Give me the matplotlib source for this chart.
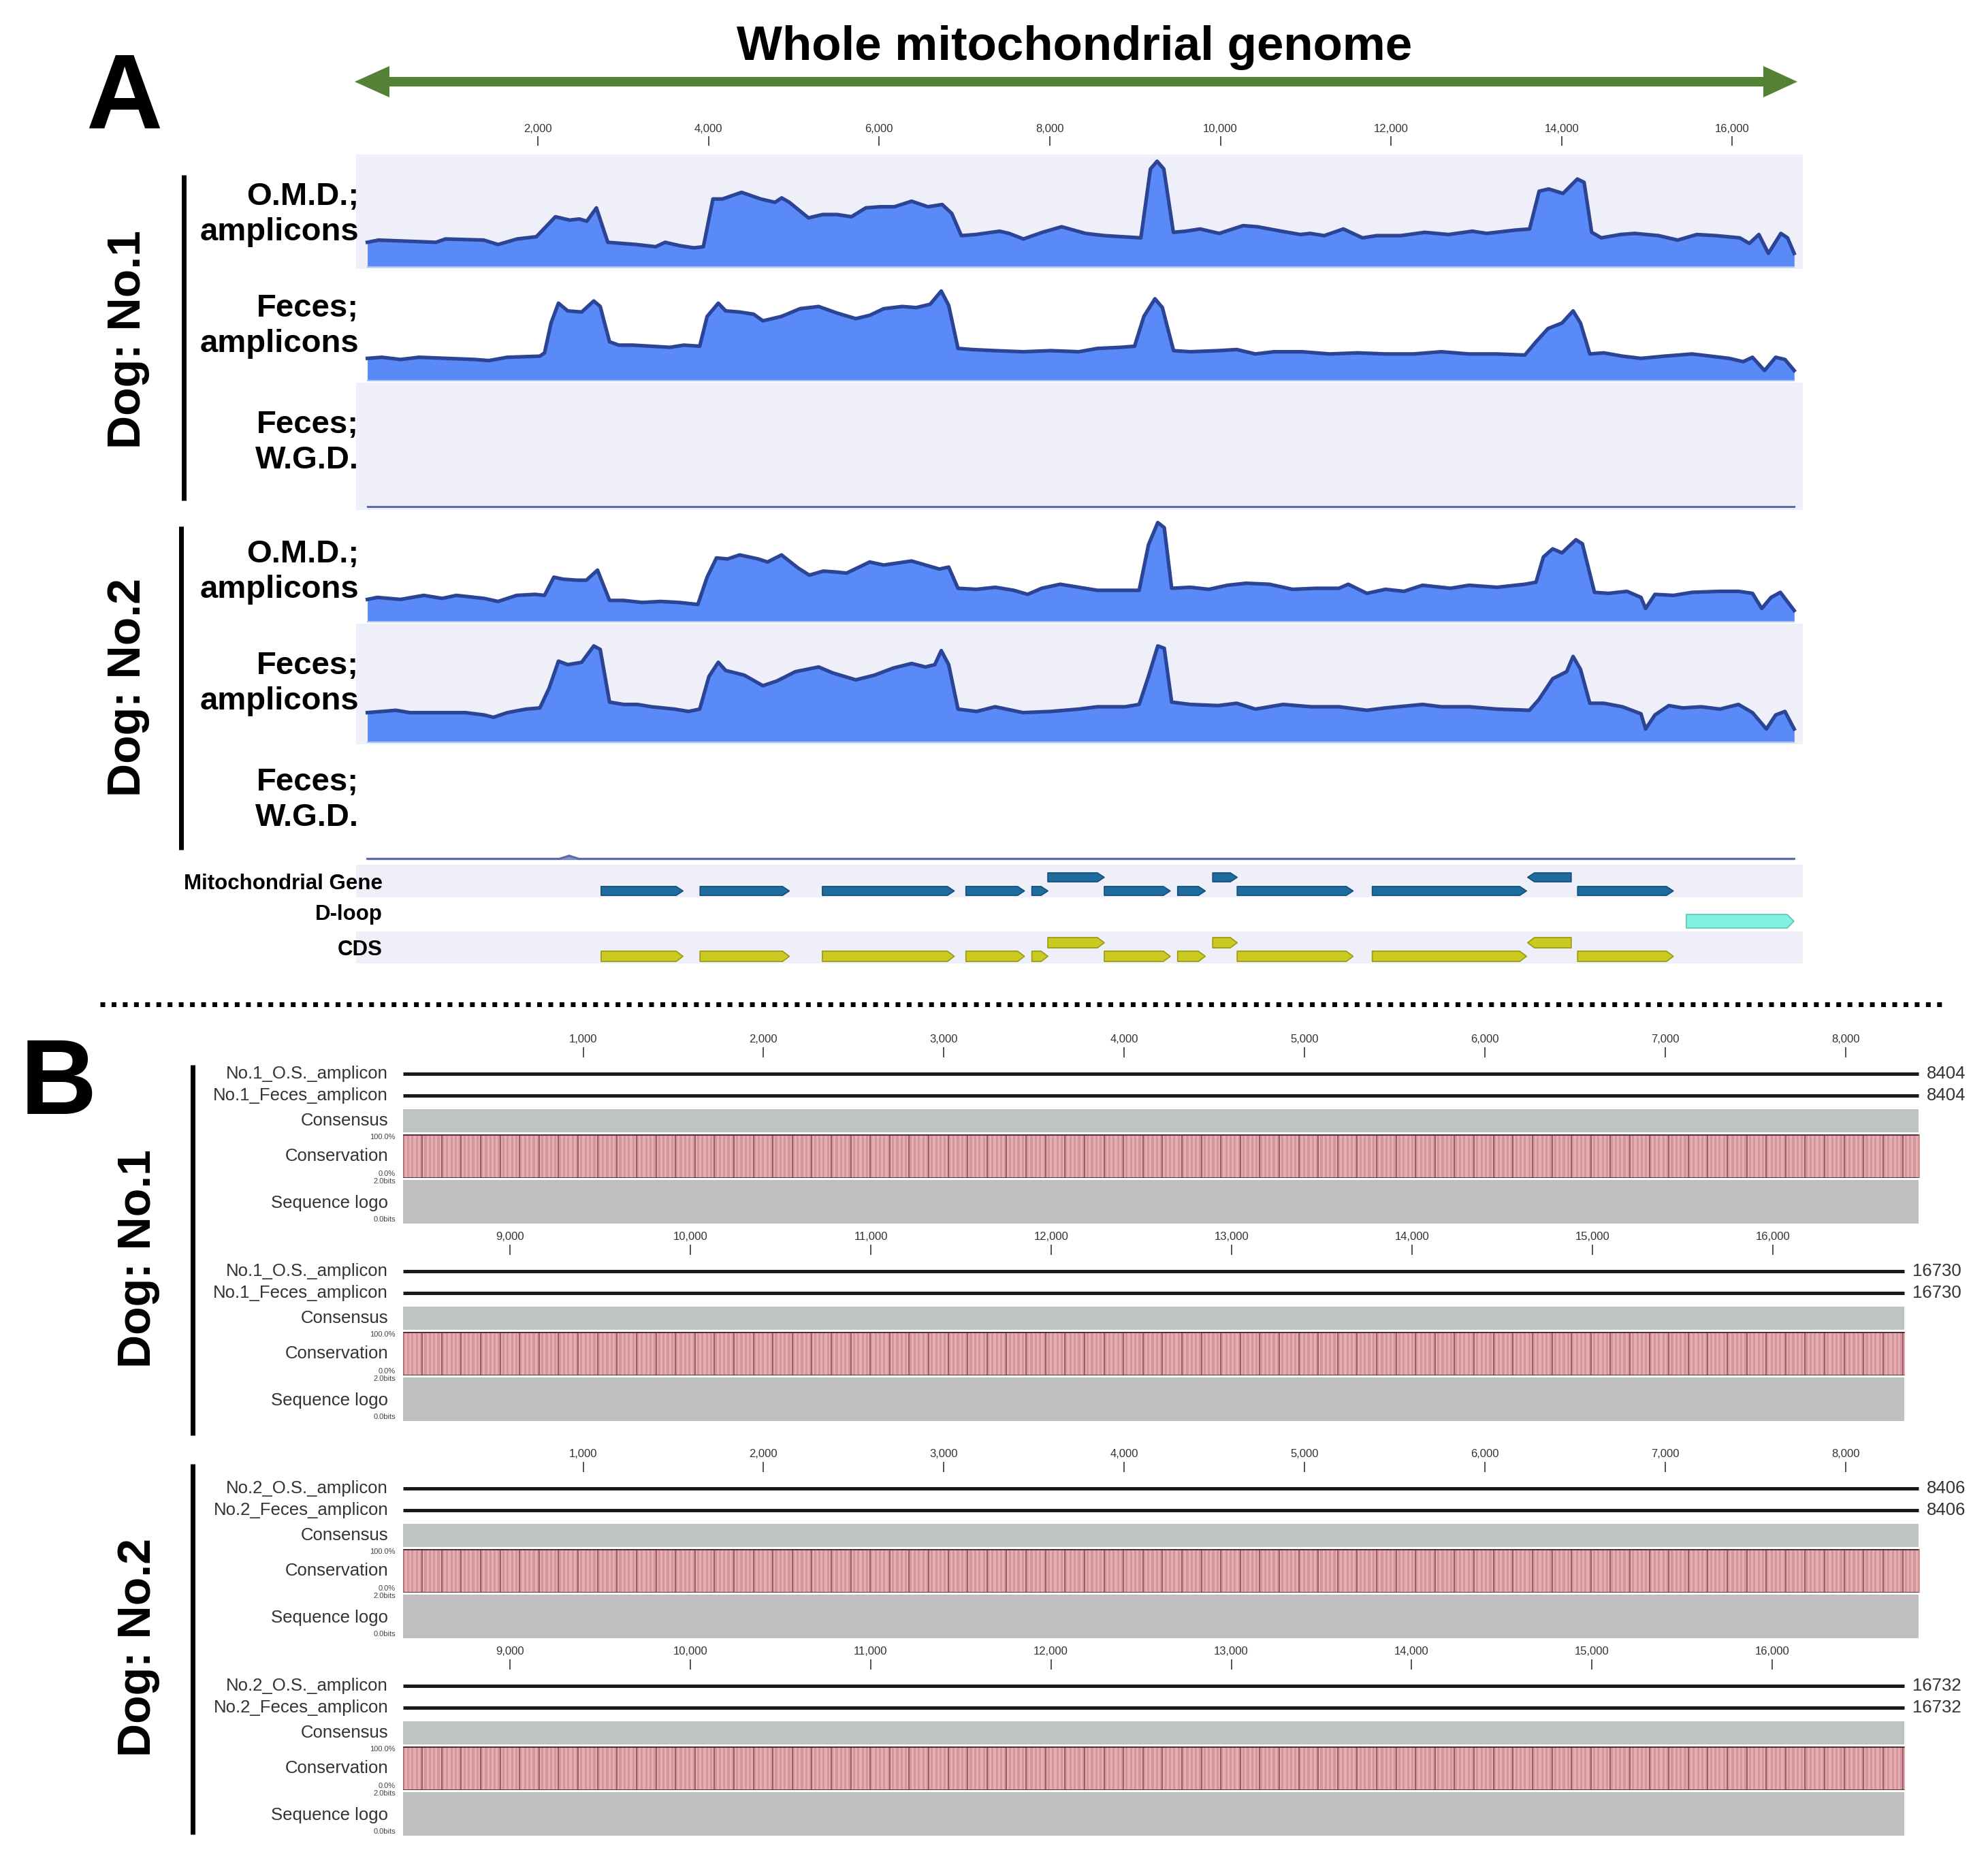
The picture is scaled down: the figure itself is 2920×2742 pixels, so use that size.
import numpy as np
import matplotlib
matplotlib.use('Agg')
import matplotlib.pyplot as plt
from matplotlib.patches import Polygon

plt.rcParams['font.family'] = ['Liberation Sans', 'DejaVu Sans']

W, H, DPI = 2920, 2742, 100

# ---------------- panel A: read coverage along the mitogenome ----------------
GENOME_LEN = 16730
a_ticks = [2000, 4000, 6000, 8000, 10000, 12000, 14000, 16000]

omd1_pos = [0, 132, 804, 916, 1364, 1532, 1756, 1980, 2204, 2372, 2484, 2573, 2685, 2819,
            3155, 3379, 3491, 3659, 3827, 3939, 4051, 4163, 4387, 4611, 4779, 4857, 4947,
            5171, 5339, 5507, 5675, 5843, 6011, 6179, 6380, 6571, 6739, 6851, 6963, 7131,
            7411, 7523, 7691, 7915, 8139, 8418, 8642, 9068, 9180, 9258, 9337, 9449, 9594,
            9762, 9986, 10266, 10434, 10714, 10938, 11050, 11218, 11442, 11666, 11834,
            12114, 12394, 12674, 12954, 13122, 13458, 13625, 13737, 13849, 14017, 14185,
            14264, 14353, 14465, 14689, 14857, 15137, 15361, 15585, 15809, 16089, 16201,
            16313, 16425, 16571, 16649, 16727]
omd1_cov = [22, 24, 22, 25, 24, 20, 25, 27, 45, 42, 43, 41, 53, 22,
            20, 18, 22, 19, 17, 18, 61, 61, 67, 61, 58, 62, 58,
            44, 47, 47, 45, 53, 54, 54, 59, 54, 56, 48, 28, 29,
            32, 30, 25, 31, 36, 30, 28, 26, 88, 95, 88, 31, 32,
            34, 30, 37, 36, 32, 29, 30, 28, 34, 26, 28,
            28, 31, 29, 32, 30, 33, 34, 68, 70, 66, 79,
            76, 31, 26, 29, 30, 28, 24, 29, 28, 26, 21,
            29, 12, 30, 26, 12]

fec1_pos = [0, 170, 388, 606, 933, 1260, 1423, 1641, 2022, 2077, 2153, 2240, 2349, 2512,
            2654, 2730, 2839, 2948, 3111, 3329, 3547, 3711, 3896, 3983, 4114, 4201, 4364,
            4528, 4637, 4855, 5072, 5290, 5508, 5726, 5889, 6053, 6270, 6434, 6597, 6728,
            6815, 6924, 7088, 7360, 7687, 8013, 8340, 8558, 8830, 8994, 9103, 9233, 9320,
            9451, 9647, 9974, 10192, 10410, 10628, 10955, 11281, 11608, 11935, 12262,
            12589, 12915, 13242, 13569, 13700, 13841, 14005, 14135, 14222, 14331, 14495,
            14713, 14931, 15203, 15530, 15748, 15966, 16129, 16238, 16379, 16510, 16619,
            16727]
fec1_cov = [20, 21, 19, 21, 20, 19, 18, 21, 22, 25, 52, 70, 63, 62,
            72, 67, 35, 32, 32, 31, 30, 32, 31, 58, 70, 63, 62,
            60, 54, 58, 65, 67, 61, 56, 59, 65, 67, 66, 69, 81,
            68, 29, 28, 27, 26, 27, 26, 29, 30, 31, 58, 74, 66,
            27, 26, 27, 28, 24, 26, 26, 24, 25, 24, 24,
            26, 24, 24, 23, 35, 47, 52, 63, 52, 24, 25,
            22, 20, 22, 24, 22, 20, 17, 21, 9, 21, 19,
            9]

omd2_pos = [0, 116, 388, 661, 878, 1042, 1369, 1532, 1750, 1968, 2077, 2186, 2295, 2458,
            2567, 2698, 2839, 3003, 3220, 3438, 3656, 3874, 3983, 4092, 4223, 4364, 4582,
            4691, 4855, 5050, 5181, 5345, 5508, 5617, 5889, 6053, 6216, 6380, 6543, 6706,
            6815, 6924, 7142, 7360, 7578, 7741, 7905, 8122, 8340, 8558, 9048, 9157, 9266,
            9342, 9429, 9647, 9865, 10083, 10301, 10573, 10846, 11118, 11390, 11499, 11717,
            11935, 12153, 12371, 12697, 12915, 13242, 13569, 13700, 13787, 13896, 14005,
            14168, 14244, 14386, 14549, 14767, 14931, 14985, 15094, 15312, 15530, 15857,
            16074, 16238, 16347, 16456, 16565, 16727]
omd2_cov = [22, 24, 22, 26, 23, 26, 23, 20, 26, 27, 26, 44, 42, 41,
            41, 51, 21, 21, 19, 20, 19, 17, 44, 63, 62, 66, 62,
            59, 66, 53, 46, 50, 49, 48, 59, 56, 58, 60, 56, 52,
            54, 33, 32, 34, 31, 27, 33, 37, 34, 31, 31, 76, 98,
            93, 33, 34, 32, 36, 38, 37, 32, 33, 33, 37, 28,
            32, 30, 36, 33, 36, 34, 37, 39, 64, 72, 68,
            81, 77, 29, 28, 30, 24, 13, 27, 26, 29, 30,
            30, 28, 13, 24, 29, 11]

fec2_pos = [0, 170, 334, 497, 824, 1151, 1369, 1478, 1641, 1859, 2022, 2131, 2240, 2349,
            2512, 2654, 2730, 2839, 3003, 3166, 3329, 3602, 3765, 3896, 4005, 4114, 4201,
            4419, 4637, 4800, 5018, 5290, 5453, 5726, 5944, 6162, 6380, 6543, 6652, 6728,
            6815, 6924, 7142, 7360, 7687, 8013, 8340, 8558, 8885, 9048, 9157, 9266, 9342,
            9429, 9647, 9974, 10192, 10410, 10737, 11063, 11390, 11717, 11935, 12371,
            12589, 12915, 13242, 13623, 13732, 13896, 14059, 14135, 14222, 14331, 14495,
            14713, 14931, 14985, 15094, 15257, 15421, 15639, 15857, 16074, 16238, 16401,
            16510, 16619, 16727]
fec2_cov = [25, 26, 27, 25, 25, 25, 23, 21, 25, 28, 29, 46, 69, 66,
            68, 82, 79, 34, 32, 32, 30, 28, 26, 28, 56, 68, 61,
            57, 48, 52, 60, 64, 59, 53, 57, 63, 67, 64, 66, 78,
            66, 28, 26, 30, 25, 26, 28, 30, 30, 32, 56, 82, 80,
            34, 32, 31, 33, 28, 32, 30, 30, 27, 29, 32,
            30, 30, 28, 27, 36, 54, 60, 73, 62, 33, 33,
            30, 24, 11, 23, 31, 29, 30, 28, 32, 25, 11,
            23, 26, 11]

# whole-genome data: essentially no mitochondrial reads
wgd1_pos = [0, 16727]
wgd1_cov = [0.8, 0.8]
wgd2_pos = [0, 2250, 2366, 2480, 16727]
wgd2_cov = [0.8, 0.8, 3.5, 0.8, 0.8]

a_track_labels = ['O.M.D.;\namplicons', 'Feces;\namplicons', 'Feces;\nW.G.D.',
                  'O.M.D.;\namplicons', 'Feces;\namplicons', 'Feces;\nW.G.D.']

# annotation: mitochondrial genes (same coordinates are the CDS)
gene_start = [2740, 3900, 5334, 7017, 7790, 7977, 8639, 9499, 9910, 10197, 11781, 13602, 14188]
gene_end = [3700, 4947, 6880, 7703, 7978, 8639, 9412, 9823, 10197, 11556, 13589, 14113, 15310]
gene_lane = [0, 0, 0, 0, 0, 1, 0, 0, 1, 0, 0, 1, 0]
gene_strand = [1, 1, 1, 1, 1, 1, 1, 1, 1, 1, 1, -1, 1]
dloop_start, dloop_end = 15463, 16724

# ---------------- panel B: pairwise alignments ----------------
b_start = [0, 8404, 0, 8406]
b_end = [8404, 16730, 8406, 16732]
b_names = [['No.1_O.S._amplicon', 'No.1_Feces_amplicon'],
           ['No.1_O.S._amplicon', 'No.1_Feces_amplicon'],
           ['No.2_O.S._amplicon', 'No.2_Feces_amplicon'],
           ['No.2_O.S._amplicon', 'No.2_Feces_amplicon']]
b_ticks = [[1000, 2000, 3000, 4000, 5000, 6000, 7000, 8000],
           [9000, 10000, 11000, 12000, 13000, 14000, 15000, 16000],
           [1000, 2000, 3000, 4000, 5000, 6000, 7000, 8000],
           [9000, 10000, 11000, 12000, 13000, 14000, 15000, 16000]]
cons_pct = 100.0  # identity is 100% across every alignment column

# ---------------- styling ----------------
LAV = '#EFEFFA'
FILL = '#5A8AF7'
EDGE = '#2B4496'
GENE_C, GENE_E = '#1E6B9E', '#134F78'
CDS_C, CDS_E = '#CACA22', '#9A9A12'
DLOOP_C, DLOOP_E = '#80F2E2', '#5CC4B6'


def pt(pixels):
    return pixels * 72 / DPI


fig = plt.figure(figsize=(W / DPI, H / DPI), dpi=DPI)


def px_axes(x0, y0, x1, y1, **kw):
    return fig.add_axes([x0 / W, 1 - y1 / H, (x1 - x0) / W, (y1 - y0) / H], **kw)


def bare(ax, bg='none'):
    ax.set_facecolor(bg)
    ax.set_xticks([])
    ax.set_yticks([])
    for s in ax.spines.values():
        s.set_visible(False)


# panel A x mapping: bp 0 at px 539.6, 0.12529 px per bp
A_X0, A_SC = 539.6, 0.12529
A_XMIN, A_XMAX = -130, 16830
A_L, A_R = A_X0 + A_XMIN * A_SC, A_X0 + A_XMAX * A_SC

# ruler
rul = px_axes(A_L, 200, A_R, 214)
bare(rul)
rul.set_xlim(A_XMIN, A_XMAX)
rul.xaxis.tick_top()
rul.set_xticks(a_ticks)
rul.set_xticklabels([f'{t:,}' for t in a_ticks], fontsize=12, color='#333333')
rul.tick_params(axis='x', direction='in', length=pt(14), width=1.3, color='#444444', pad=2)

a_rows = [(227, 395), (395, 562), (562, 749), (763, 916), (916, 1093), (1093, 1266)]
a_bg = [LAV, 'white', LAV, 'white', LAV, 'white']
a_series = [(omd1_pos, omd1_cov), (fec1_pos, fec1_cov), (wgd1_pos, wgd1_cov),
            (omd2_pos, omd2_cov), (fec2_pos, fec2_cov), (wgd2_pos, wgd2_cov)]
a_label_y = [315, 479, 650, 840, 1004, 1175]

for (y0, y1), bg, (xs, ys) in zip(a_rows, a_bg, a_series):
    ax = px_axes(A_L, y0, A_R, y1)
    bare(ax, bg)
    ax.set_xlim(A_XMIN, A_XMAX)
    ax.set_ylim(-2, 101)
    if max(ys) > 10:
        ax.fill_between(xs, 0, ys, color=FILL, lw=0)
        ax.plot(xs, ys, color=EDGE, lw=3.8, solid_joinstyle='round')
        ax.plot([xs[0], xs[-1]], [0, 0], color='#A9C0F2', lw=1.5)
    else:
        ax.fill_between(xs, 0, ys, color='#8090C8', lw=0)
        ax.plot(xs, ys, color='#5B6BA8', lw=2.2)

# annotation rows
g_rows = [(1270, 1318, LAV, (-0.475, 1.925)),
          (1318, 1368, 'white', (-0.75, 1.75)),
          (1368, 1415, LAV, (-0.525, 1.825))]
g_axes = []
for y0, y1, bg, lim in g_rows:
    ax = px_axes(A_L, y0, A_R, y1)
    bare(ax, bg)
    ax.set_xlim(A_XMIN, A_XMAX)
    ax.set_ylim(*lim)
    g_axes.append(ax)


def feature(ax, s, e, lane, strand, half, color, edge):
    tip = min(80, 0.6 * (e - s))
    if strand > 0:
        pts = [(s, lane - half), (e - tip, lane - half), (e, lane), (e - tip, lane + half), (s, lane + half)]
    else:
        pts = [(e, lane - half), (s + tip, lane - half), (s, lane), (s + tip, lane + half), (e, lane + half)]
    ax.add_patch(Polygon(pts, closed=True, facecolor=color, edgecolor=edge, lw=1.2, joinstyle='round'))


for s, e, ln, st in zip(gene_start, gene_end, gene_lane, gene_strand):
    feature(g_axes[0], s, e, ln, st, 0.33, GENE_C, GENE_E)
    feature(g_axes[2], s, e, ln, st, 0.38, CDS_C, CDS_E)
feature(g_axes[1], dloop_start, dloop_end, 0, 1, 0.5, DLOOP_C, DLOOP_E)

# ---------------- panel B ----------------
B_X0, B_SC, B_SPAN = 591.6, 0.2649, 8420
B_R = B_X0 + B_SPAN * B_SC
b_top = [1538, 1828, 2147, 2437]

for k in range(4):
    T = b_top[k]
    s, e = b_start[k], b_end[k]
    ax = px_axes(B_X0, T, B_R, T + 259)
    bare(ax)
    ax.set_xlim(s, s + B_SPAN)
    ax.set_ylim(259, 0)
    ax.xaxis.tick_top()
    ax.set_xticks(b_ticks[k])
    ax.set_xticklabels([f'{t:,}' for t in b_ticks[k]], fontsize=12, color='#333333')
    ax.tick_params(axis='x', direction='in', length=pt(15), width=1.3, color='#444444', pad=3)
    for row_y in (39, 71):
        ax.hlines(row_y, s, e, color='#1A1A1A', lw=pt(5))
        ax.text(e + 45, row_y, f'{e}', fontsize=18.5, color='#333333', va='center', ha='left')
    ax.broken_barh([(s, e - s)], (91, 34), facecolors='#C0C3C3')
    ax.broken_barh([(s, e - s)], (195, 64), facecolors='#BFBFBF')

    cax = px_axes(B_X0, T + 128, B_R, T + 192)
    bare(cax)
    cax.set_xlim(s, s + B_SPAN)
    cax.set_ylim(0, 100)
    cols = np.arange(s, e, 12)
    cax.bar(cols, np.full(len(cols), cons_pct), width=12, align='edge',
            color=['#D4959B', '#E3AFB3'] * (len(cols) // 2) + ['#D4959B'] * (len(cols) % 2), lw=0)
    cax.vlines(cols[::9], 0, cons_pct, color='#8A4A50', lw=1.1)
    cax.hlines([0, cons_pct], s, e, color='#4A2A2C', lw=2)

# ---------------- overlay: titles, labels, brackets ----------------
ov = fig.add_axes([0, 0, 1, 1], zorder=10)
ov.set_xlim(0, W)
ov.set_ylim(H, 0)
ov.axis('off')
ov.patch.set_alpha(0)

ov.text(1578, 88, 'Whole mitochondrial genome', ha='center', va='baseline',
        fontsize=51, weight='bold')
ov.add_patch(Polygon([(521, 120), (572, 97), (572, 113), (2590, 113), (2590, 97), (2640, 120),
                      (2590, 143), (2590, 127), (572, 127), (572, 143)],
                     closed=True, facecolor='#548235', edgecolor='none'))
ov.text(182, 188, 'A', ha='center', va='baseline', fontsize=112, weight='bold')
ov.text(86, 1636, 'B', ha='center', va='baseline', fontsize=112, weight='bold')

for x, y, lab in [(188, 499, 'Dog: No.1'), (188, 1009, 'Dog: No.2'),
                  (203, 1849, 'Dog: No.1'), (203, 2420, 'Dog: No.2')]:
    ov.text(x, y, lab, rotation=90, ha='center', va='center', fontsize=49, weight='bold')
for x, y0, y1 in [(270, 257, 735), (266, 773, 1248), (283, 1564, 2108), (283, 2150, 2694)]:
    ov.plot([x, x], [y0, y1], color='black', lw=pt(7), solid_capstyle='butt')

for y, lab in zip(a_label_y, a_track_labels):
    ov.text(527, y, lab, ha='right', va='center', multialignment='right',
            fontsize=34, weight='bold', linespacing=1.25)
for y, lab in [(1298, 'Mitochondrial Gene'), (1343, 'D-loop'), (1395, 'CDS')]:
    ov.text(562, y, lab, ha='right', va='center', fontsize=22.5, weight='bold')

ov.plot([147, 2858], [1475, 1475], color='black', lw=pt(7),
        linestyle=(0, (1, 1.35)), dash_capstyle='butt')

for k in range(4):
    T = b_top[k]
    for y, lab in [(39, b_names[k][0]), (71, b_names[k][1]), (108, 'Consensus'),
                   (160, 'Conservation'), (229, 'Sequence logo')]:
        ov.text(570, T + y, lab, ha='right', va='center', fontsize=18.5, color='#333333')
    for y, lab in [(132, '100.0%'), (186, '0.0%'), (197, '2.0bits'), (253, '0.0bits')]:
        ov.text(581, T + y, lab, ha='right', va='center', fontsize=8, color='#444444')

fig.savefig('out.png', dpi=DPI)
